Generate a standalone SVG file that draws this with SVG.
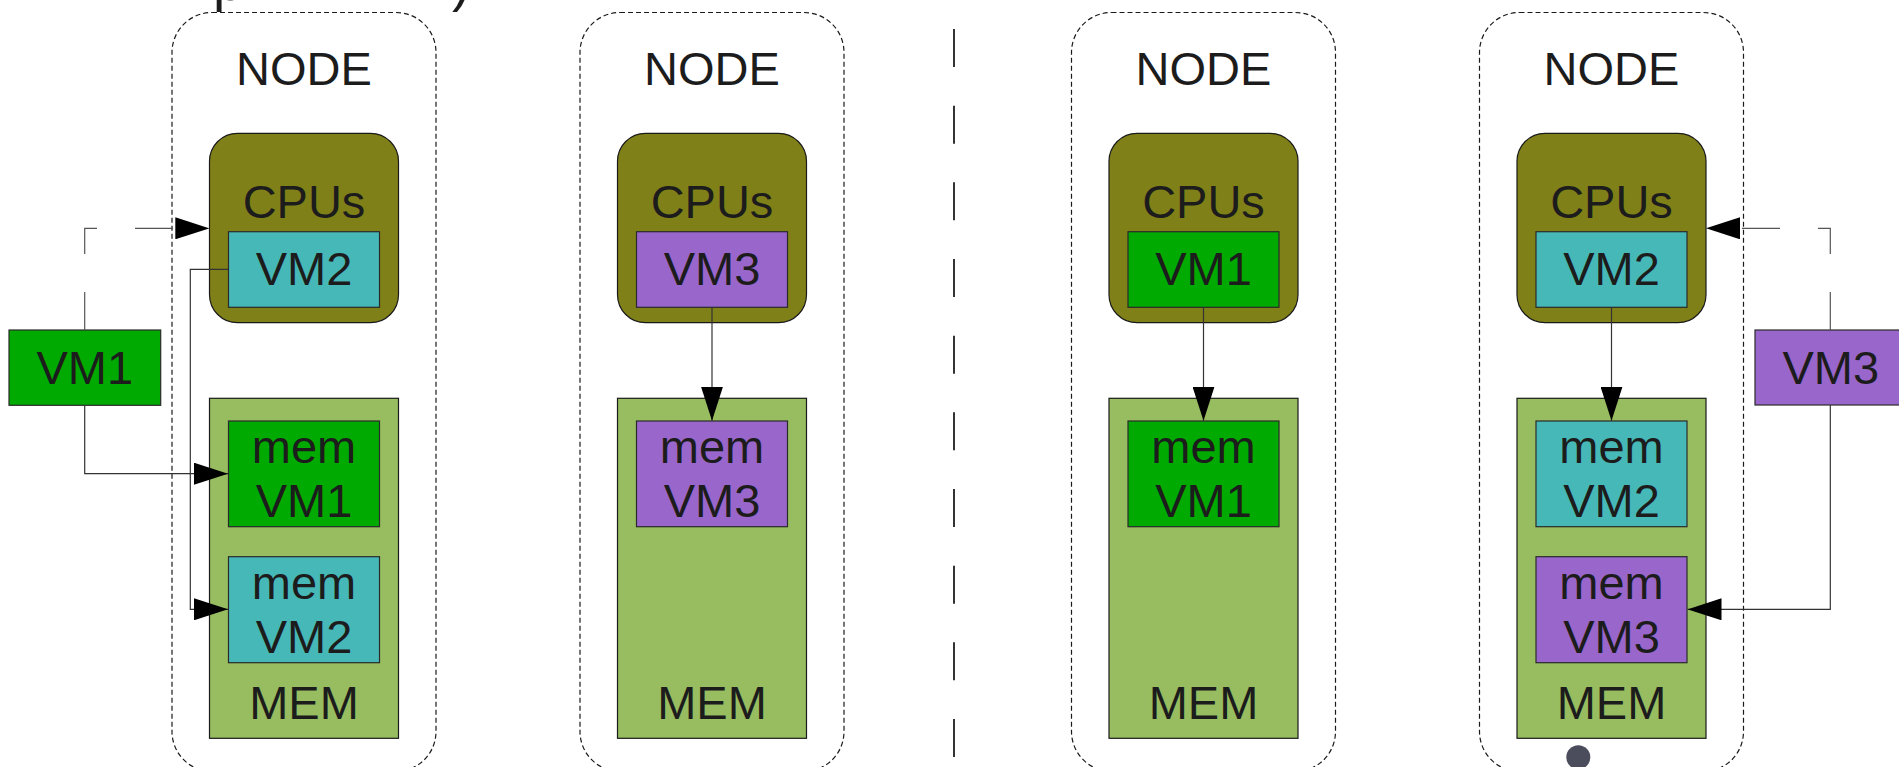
<svg xmlns="http://www.w3.org/2000/svg" width="1899" height="767" viewBox="0 0 1899 767">
<defs>
<style>
.t{font-family:"Liberation Sans",Arial,sans-serif;font-size:47px;fill:#1c1c1c;text-anchor:middle}
.node{fill:none;stroke:#1a1a1a;stroke-width:1.2;stroke-dasharray:5,3}
.cpu{fill:#808019;stroke:#1a1a1a;stroke-width:1.2}
.mem{fill:#97bd60;stroke:#1a1a1a;stroke-width:1.2}
.vm1{fill:#00aa00;stroke:#2a2a2a;stroke-width:1.2}
.vm2{fill:#47b8b8;stroke:#2a2a2a;stroke-width:1.2}
.vm3{fill:#9966cc;stroke:#2a2a2a;stroke-width:1.2}
.c{fill:none;stroke:#333;stroke-width:1.2}
.cd{fill:none;stroke:#555;stroke-width:1.2;stroke-dasharray:38,38}
</style>
<marker id="arr" markerUnits="userSpaceOnUse" markerWidth="34" markerHeight="22" refX="34" refY="11" orient="auto" viewBox="0 0 34 22">
<path d="M0,0 L34,11 L0,22 Z" fill="#000"/>
</marker>
</defs>
<rect width="1899" height="767" fill="#fff"/>
<g id="title-fragment">
<text class="t" x="213" y="0" style="font-size:55px;text-anchor:start">p</text>
<text class="t" x="452" y="0" style="font-size:55px;text-anchor:start">)</text>
</g>
<g id="divider">
<line x1="954" y1="29" x2="954" y2="767" stroke="#333" stroke-width="2" stroke-dasharray="38,38.67"/>
</g>
<g id="node1">
<rect class="node" x="172" y="12.5" width="264" height="759" rx="40"/>
<text class="t" x="304" y="85">NODE</text>
<rect class="cpu" x="209.5" y="133.3" width="189" height="189.4" rx="28"/>
<text class="t" x="304" y="218.3">CPUs</text>
<rect class="vm2" x="228.5" y="231.7" width="151" height="75.6"/>
<text class="t" x="304" y="285">VM2</text>
<rect class="mem" x="209.5" y="398.3" width="189" height="340"/>
<rect class="vm1" x="228.5" y="421" width="151" height="105.7"/>
<text class="t" x="304" y="463.3">mem</text>
<text class="t" x="304" y="516.7">VM1</text>
<rect class="vm2" x="228.5" y="556.7" width="151" height="106"/>
<text class="t" x="304" y="599.3">mem</text>
<text class="t" x="304" y="652.7">VM2</text>
<text class="t" x="304" y="719.3">MEM</text>
</g>
<g id="node2">
<rect class="node" x="580" y="12.5" width="264" height="759" rx="40"/>
<text class="t" x="712" y="85">NODE</text>
<rect class="cpu" x="617.5" y="133.3" width="189" height="189.4" rx="28"/>
<text class="t" x="712" y="218.3">CPUs</text>
<rect class="vm3" x="636.5" y="231.7" width="151" height="75.6"/>
<text class="t" x="712" y="285">VM3</text>
<rect class="mem" x="617.5" y="398.3" width="189" height="340"/>
<rect class="vm3" x="636.5" y="421" width="151" height="105.7"/>
<text class="t" x="712" y="463.3">mem</text>
<text class="t" x="712" y="516.7">VM3</text>
<text class="t" x="712" y="719.3">MEM</text>
</g>
<g id="node3">
<rect class="node" x="1071.5" y="12.5" width="264" height="759" rx="40"/>
<text class="t" x="1203.5" y="85">NODE</text>
<rect class="cpu" x="1109" y="133.3" width="189" height="189.4" rx="28"/>
<text class="t" x="1203.5" y="218.3">CPUs</text>
<rect class="vm1" x="1128" y="231.7" width="151" height="75.6"/>
<text class="t" x="1203.5" y="285">VM1</text>
<rect class="mem" x="1109" y="398.3" width="189" height="340"/>
<rect class="vm1" x="1128" y="421" width="151" height="105.7"/>
<text class="t" x="1203.5" y="463.3">mem</text>
<text class="t" x="1203.5" y="516.7">VM1</text>
<text class="t" x="1203.5" y="719.3">MEM</text>
</g>
<g id="node4">
<rect class="node" x="1479.5" y="12.5" width="264" height="759" rx="40"/>
<text class="t" x="1611.5" y="85">NODE</text>
<rect class="cpu" x="1517" y="133.3" width="189" height="189.4" rx="28"/>
<text class="t" x="1611.5" y="218.3">CPUs</text>
<rect class="vm2" x="1536" y="231.7" width="151" height="75.6"/>
<text class="t" x="1611.5" y="285">VM2</text>
<rect class="mem" x="1517" y="398.3" width="189" height="340"/>
<rect class="vm2" x="1536" y="421" width="151" height="105.7"/>
<text class="t" x="1611.5" y="463.3">mem</text>
<text class="t" x="1611.5" y="516.7">VM2</text>
<rect class="vm3" x="1536" y="556.7" width="151" height="106"/>
<text class="t" x="1611.5" y="599.3">mem</text>
<text class="t" x="1611.5" y="652.7">VM3</text>
<text class="t" x="1611.5" y="719.3">MEM</text>
<circle cx="1578.3" cy="757.3" r="12" fill="#4b4d5c"/>
</g>
<g id="vm1-ext">
<rect class="vm1" x="9" y="330" width="151.7" height="75.3"/>
<text class="t" x="84.8" y="384">VM1</text>
</g>
<g id="vm3-ext">
<rect class="vm3" x="1755" y="330" width="151.7" height="75"/>
<text class="t" x="1830.8" y="384">VM3</text>
</g>
<g id="connectors">
<path class="cd" d="M84.7,330 V228.3 H209.3" marker-end="url(#arr)"/>
<path class="c" d="M84.7,405.3 V473.7 H228" marker-end="url(#arr)"/>
<path class="c" d="M228.5,269.3 H190.3 V609.3 H228" marker-end="url(#arr)"/>
<path class="c" d="M712,307.3 V420.7" marker-end="url(#arr)"/>
<path class="c" d="M1203.5,307.3 V420.7" marker-end="url(#arr)"/>
<path class="c" d="M1611.5,307.3 V420.7" marker-end="url(#arr)"/>
<path class="cd" d="M1830.3,330 V228.3 H1706" marker-end="url(#arr)"/>
<path class="c" d="M1830.3,405 V609.3 H1687.5" marker-end="url(#arr)"/>
</g>
</svg>
